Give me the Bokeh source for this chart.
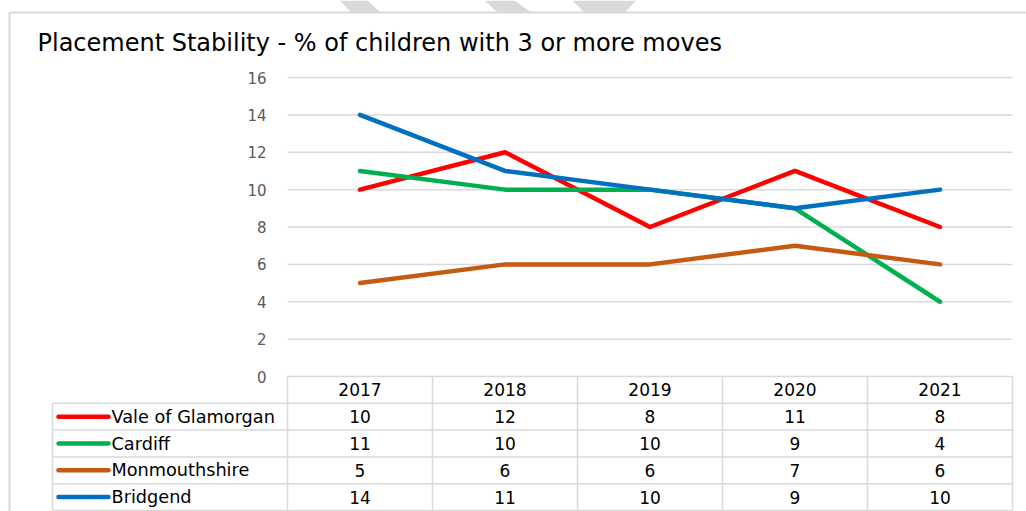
from bokeh.plotting import figure
from bokeh.models import Range1d
from bokeh.core.properties import value
from bokeh.embed import file_html
from bokeh.resources import INLINE

# ---------------- data ----------------
title_text = "Placement Stability - % of children with 3 or more moves"
years = ["2017", "2018", "2019", "2020", "2021"]
series_names = ["Vale of Glamorgan", "Cardiff", "Monmouthshire", "Bridgend"]
vale = [10, 12, 8, 11, 8]
cardiff = [11, 10, 10, 9, 4]
monmouth = [5, 6, 6, 7, 6]
bridgend = [14, 11, 10, 9, 10]
series_values = [vale, cardiff, monmouth, bridgend]
series_colors = ["#FF0000", "#00B050", "#C55A11", "#0070C0"]
y_ticks = [0, 2, 4, 6, 8, 10, 12, 14, 16]

# ---------------- layout (pixels) ----------------
W, H = 1026, 511
PLOT_L, PLOT_R = 287, 1012
PLOT_T, PLOT_B = 77, 376
YMAX = 16
ppx = (PLOT_R - PLOT_L) / len(years)
ppy = (PLOT_B - PLOT_T) / YMAX
x_start = -0.5 - PLOT_L / ppx
x_end = len(years) - 0.5 + (W - PLOT_R) / ppx
y_end = YMAX + PLOT_T / ppy
y_start = -(H - PLOT_B) / ppy


def X(px):
    return x_start + px / ppx


def Y(py):
    return y_end - py / ppy


GRID = "#D9D9D9"
FONT = "DejaVu Sans"
n = len(years)
xs = list(range(n))

p = figure(width=W, height=H, x_range=Range1d(x_start, x_end),
           y_range=Range1d(y_start, y_end), min_border=0,
           toolbar_location=None, output_backend="svg",
           x_axis_location=None, y_axis_location=None,
           outline_line_color=None, background_fill_color="white",
           border_fill_color="white")
p.grid.visible = False

# watermark fragments at the top
wm = [
    [(339, 0), (367, 0), (380, 12), (351, 12)],
    [(484, 0), (514, 0), (531, 12), (497, 12)],
    [(572, 0), (636, 0), (624, 12), (584, 12)],
]
p.patches(xs=[[X(a) for a, b in poly] for poly in wm],
          ys=[[Y(b) for a, b in poly] for poly in wm],
          fill_color="#D9D9D9", line_color=None)

# chart border
p.segment(x0=[X(9), X(9)], y0=[Y(12), Y(12)], x1=[x_end + 1, X(9)],
          y1=[Y(12), y_start - 1], line_color=GRID, line_width=2)

# title
p.text(x=[X(37)], y=[Y(42)], text=[title_text], text_font=value(FONT),
       text_font_size=value("24px"), text_color="#000000",
       text_baseline="middle", text_align="left")

# gridlines
grid_vals = [t for t in y_ticks if t > 0]
p.segment(x0=[-0.5] * len(grid_vals), x1=[n - 0.5] * len(grid_vals),
          y0=grid_vals, y1=grid_vals, line_color=GRID, line_width=1.5)

# y tick labels
p.text(x=[X(266)] * len(y_ticks), y=y_ticks, text=[str(t) for t in y_ticks],
       text_font=value(FONT), text_font_size=value("15px"),
       text_color="#595959", text_align="right", text_baseline="middle")

# series lines
for vals, col in zip(series_values, series_colors):
    p.line(x=xs, y=vals, line_color=col, line_width=4.5,
           line_cap="round", line_join="round")

# ---------------- data table ----------------
rh = 26.8 / ppy
nrows = len(series_names)
# horizontal lines
hx0 = [-0.5] + [X(52)] * (nrows + 1)
hx1 = [n - 0.5] * (nrows + 2)
hy = [0] + [-(k + 1) * rh for k in range(nrows + 1)]
p.segment(x0=hx0, x1=hx1, y0=hy, y1=hy, line_color=GRID, line_width=1.5)
# vertical lines
vx = [i - 0.5 for i in range(n + 1)] + [X(52)]
vy0 = [0] * (n + 1) + [-rh]
vy1 = [-(nrows + 1) * rh] * (n + 2)
p.segment(x0=vx, x1=vx, y0=vy0, y1=vy1, line_color=GRID, line_width=1.5)

# header years
p.text(x=xs, y=[-rh / 2] * n, text=years, text_font=value(FONT),
       text_font_size=value("17px"), text_color="#000000",
       text_align="center", text_baseline="middle")

# rows
for r, (name, vals, col) in enumerate(zip(series_names, series_values, series_colors)):
    yc = -(r + 1.5) * rh
    p.segment(x0=[X(58)], x1=[X(108)], y0=[yc], y1=[yc], line_color=col,
              line_width=4.5, line_cap="round")
    p.text(x=[X(111)], y=[yc], text=[name], text_font=value(FONT),
           text_font_size=value("17.7px"), text_color="#000000",
           text_align="left", text_baseline="middle")
    p.text(x=xs, y=[yc] * n, text=[str(v) for v in vals], text_font=value(FONT),
           text_font_size=value("17px"), text_color="#000000",
           text_align="center", text_baseline="middle")

open("out.html", "w").write(file_html(p, INLINE))
